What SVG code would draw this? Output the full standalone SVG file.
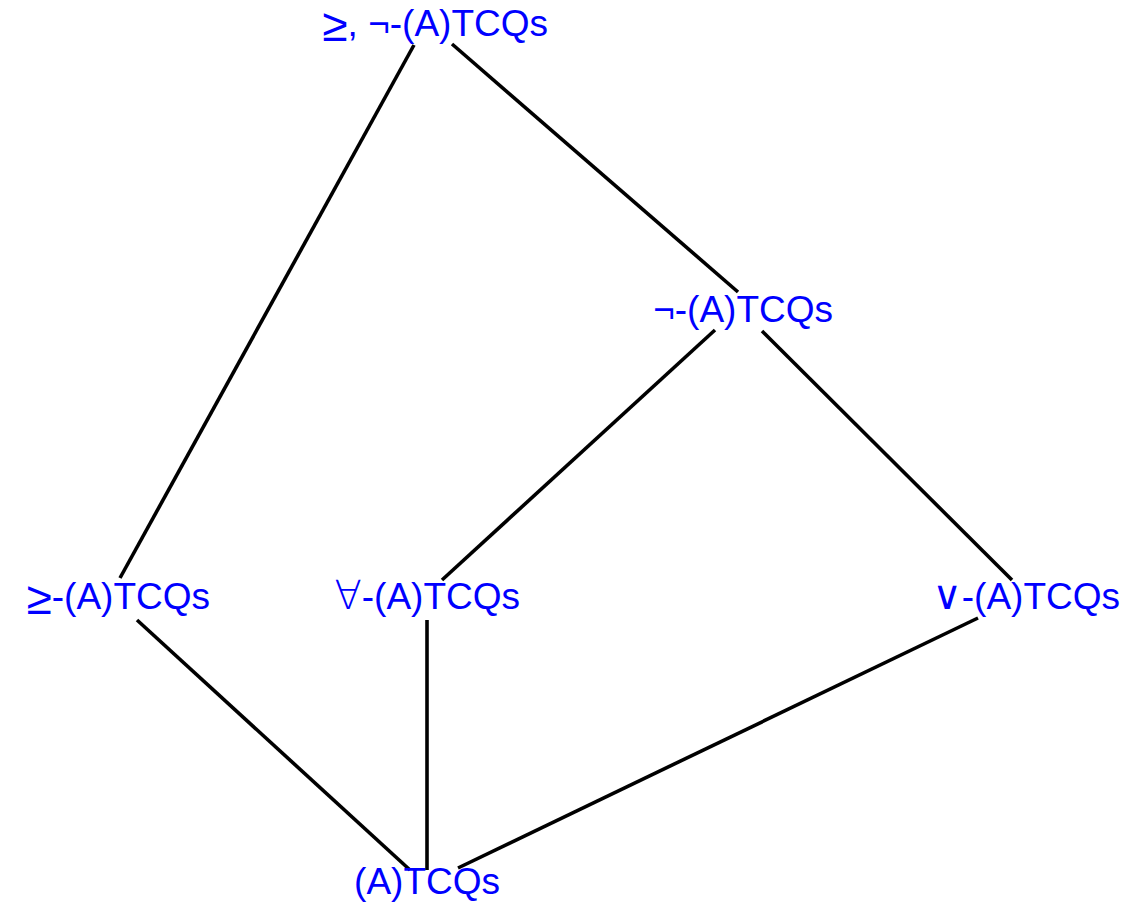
<svg xmlns="http://www.w3.org/2000/svg" width="1126" height="907" viewBox="0 0 1126 907">
  <style>
    .lbl { font-family: "Liberation Sans", Arial, sans-serif; font-size: 37px; fill: #0000ff; text-anchor: end; }
    .geq { font-size: 46px; }
    .thin { font-family: "DejaVu Sans", sans-serif; font-weight: 200; font-size: 40px; }
    .vee { font-family: "Liberation Serif", "DejaVu Serif", serif; font-size: 40px; }
    .edge { stroke: #000000; stroke-width: 3.6; fill: none; }
  </style>
  <rect width="1126" height="907" fill="#ffffff"/>
  <g id="connectors">
    <line class="edge" x1="414" y1="45" x2="120" y2="578"/>
    <line class="edge" x1="452" y1="44" x2="738" y2="292"/>
    <line class="edge" x1="715" y1="330" x2="442" y2="580"/>
    <line class="edge" x1="762" y1="331" x2="1012" y2="580"/>
    <line class="edge" x1="137" y1="620" x2="410" y2="870"/>
    <line class="edge" x1="427" y1="620" x2="427" y2="870"/>
    <line class="edge" x1="978" y1="618" x2="458" y2="868"/>
  </g>
  <g id="node-geq-neg">
    <text class="lbl" x="548" y="36"><tspan class="geq" baseline-shift="-5">≥</tspan>, ¬-(A)TCQs</text>
  </g>
  <g id="node-neg">
    <text class="lbl" x="833" y="322">¬-(A)TCQs</text>
  </g>
  <g id="node-geq">
    <text class="lbl" x="210" y="609"><tspan class="geq" baseline-shift="-5">≥</tspan>-(A)TCQs</text>
  </g>
  <g id="node-forall">
    <text class="lbl" x="520" y="609"><tspan class="thin">∀</tspan>-(A)TCQs</text>
  </g>
  <g id="node-or">
    <text class="lbl" x="1120" y="609"><tspan class="vee">∨</tspan>-(A)TCQs</text>
  </g>
  <g id="node-base">
    <text class="lbl" x="500" y="894">(A)TCQs</text>
  </g>
</svg>
